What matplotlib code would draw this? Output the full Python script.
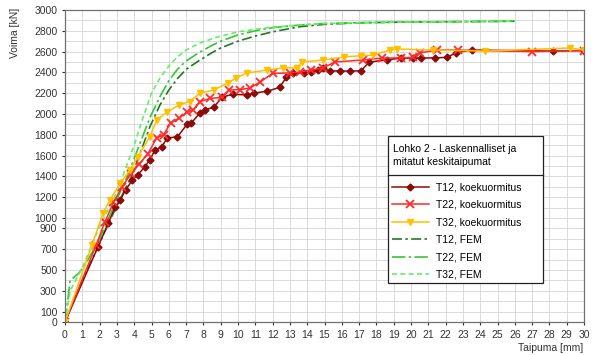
import matplotlib
matplotlib.use("Agg")
import matplotlib.pyplot as plt
from matplotlib.patches import Rectangle
from matplotlib.lines import Line2D
import numpy as np

plt.rcParams['font.family'] = ['Liberation Sans', 'DejaVu Sans']

# ---- data ----
t12_x = [0, 1.9, 2.5, 2.9, 3.2, 3.5, 3.9, 4.2, 4.6, 4.9, 5.2, 5.6, 5.9, 6.5, 7.05, 7.3, 7.8, 8.1, 8.6, 9.1,
         9.7, 10.5, 10.9, 11.7, 12.4, 12.8, 13.2, 13.8, 14.2, 14.6, 14.9, 15.3, 15.9, 16.5, 17.1, 17.6,
         18.6, 19.4, 20.1, 20.6, 21.4, 22.1, 22.6, 23.5, 28.2, 30.0]
t12_y = [0, 720, 950, 1106, 1173, 1270, 1365, 1413, 1490, 1558, 1654, 1683, 1770, 1780, 1900, 1913, 2010, 2038, 2067, 2163,
         2190, 2183, 2200, 2220, 2255, 2355, 2394, 2394, 2404, 2423, 2440, 2415, 2413, 2413, 2415, 2500,
         2519, 2538, 2538, 2538, 2540, 2545, 2590, 2615, 2605, 2610]

t22_x = [0, 1.8, 2.3, 2.8, 3.3, 3.8, 4.3, 4.8, 5.3, 5.7, 6.1, 6.6, 7.05, 7.4, 7.8, 8.4, 9.1, 9.5, 10.1,
         10.7, 11.3, 12.0, 13.0, 13.6, 14.2, 14.9, 15.6, 17.2, 18.3, 19.4, 20.1, 20.5, 21.5, 22.7, 27.0, 30.0]
t22_y = [0, 740, 960, 1150, 1300, 1420, 1520, 1620, 1770, 1800, 1913, 1960, 2019, 2038, 2120, 2150, 2160, 2230, 2235,
         2250, 2310, 2390, 2395, 2405, 2423, 2442, 2500, 2519, 2538, 2540, 2545, 2587, 2615, 2615, 2600, 2610]

t32_x = [0, 1.56, 2.2, 2.6, 3.2, 3.75, 4.2, 4.9, 5.3, 5.9, 6.6, 7.2, 7.8, 8.6, 9.4, 9.9, 10.5, 11.7, 12.6,
         13.4, 13.7, 14.9, 16.1, 17.1, 17.8, 18.8, 19.2, 21.3, 24.3, 29.2, 30.0]
t32_y = [0, 740, 1048, 1173, 1336, 1461, 1587, 1780, 1942, 2019, 2087, 2120, 2200, 2230, 2298, 2346, 2394, 2423, 2442,
         2445, 2500, 2519, 2548, 2560, 2567, 2615, 2625, 2615, 2605, 2635, 2615]

fem12_x = [0, 0.3, 1, 2, 3, 3.85, 4.9, 5.5, 6, 6.5, 7, 7.8, 8.5, 9, 10, 11, 12, 13.6, 15, 17, 20, 23, 26]
fem12_y = [0, 120, 400, 760, 1120, 1400, 1875, 2090, 2230, 2340, 2430, 2519, 2590, 2635, 2700, 2750, 2790, 2840, 2862, 2877, 2885, 2888, 2892]

fem22_x = [0, 0.3, 0.8, 1.2, 2, 3, 3.6, 4.9, 5.5, 6, 6.5, 7, 7.8, 8.5, 9, 10, 11, 12, 13.6, 15, 17, 20, 23, 26]
fem22_y = [0, 400, 470, 560, 800, 1180, 1400, 1962, 2170, 2320, 2430, 2510, 2596, 2660, 2700, 2760, 2800, 2830, 2856, 2870, 2878, 2885, 2888, 2892]

fem32_x = [0, 0.3, 1, 1.6, 2, 3, 4, 4.5, 5, 5.5, 6, 6.5, 7, 7.8, 8.8, 10, 11, 12, 13.6, 15, 17, 20, 23, 26]
fem32_y = [0, 300, 520, 760, 920, 1250, 1700, 1960, 2200, 2350, 2460, 2550, 2615, 2683, 2740, 2790, 2815, 2835, 2856, 2870, 2878, 2885, 2888, 2893]

yticks = [0, 100, 300, 500, 700, 900, 1000, 1200, 1400, 1600, 1800, 2000, 2200, 2400, 2600, 2800, 3000]
xticks = list(range(0, 31))

labels = ["T12, koekuormitus", "T22, koekuormitus", "T32, koekuormitus",
          "T12, FEM", "T22, FEM", "T32, FEM"]
legend_title = "Lohko 2 - Laskennalliset ja\nmitatut keskitaipumat"

# ---- figure ----
fig = plt.figure(figsize=(6.02, 3.55), dpi=100)
L, R, T, B = 65, 584, 10, 322
ax = fig.add_axes([L / 602, 1 - B / 355, (R - L) / 602, (B - T) / 355])

ax.set_xlim(0, 30)
ax.set_ylim(0, 3000)
ax.set_xticks(xticks)
ax.set_yticks(yticks)
ax.set_yticks(np.arange(0, 3001, 100), minor=True)
ax.grid(True, which='both', color='#d4d4d4', lw=0.6)
ax.set_axisbelow(True)
ax.tick_params(labelsize=7.5, length=2, colors='#333333')
ax.tick_params(which='minor', length=0)
for s in ax.spines.values():
    s.set_color('#707070')
    s.set_linewidth(0.9)

c12, c22, c32 = '#8b0a0a', '#ff2a2a', '#ffc000'
g12, g22, g32 = '#1f7a1f', '#33c733', '#66ee66'

h3, = ax.plot(fem12_x, fem12_y, color=g12, lw=1.2, dashes=[6, 2, 1.5, 2], label=labels[3])
h4, = ax.plot(fem22_x, fem22_y, color=g22, lw=1.2, dashes=[8, 2, 1.5, 2], label=labels[4])
h5, = ax.plot(fem32_x, fem32_y, color=g32, lw=1.2, dashes=[3, 2], label=labels[5])
h0, = ax.plot(t12_x, t12_y, color=c12, lw=1.1, marker='D', ms=3.5, label=labels[0])
h1, = ax.plot(t22_x, t22_y, color=c22, lw=1.1, marker='x', ms=6, mew=1.3, label=labels[1])
h2, = ax.plot(t32_x, t32_y, color=c32, lw=1.1, marker='v', ms=5, label=labels[2])

# legend box
bx0 = (388 - L) / (R - L)
bx1 = (543 - L) / (R - L)
by_top = (B - 136) / (B - T)
by_sep = (B - 175) / (B - T)
by_bot = (B - 283) / (B - T)
ax.add_patch(Rectangle((bx0, by_bot), bx1 - bx0, by_top - by_bot, transform=ax.transAxes,
                       facecolor='white', edgecolor='#222222', lw=0.9, zorder=10))
ax.add_line(Line2D([bx0, bx1], [by_sep, by_sep], transform=ax.transAxes, color='#222222', lw=0.9, zorder=11))
ax.text(bx0 + 0.01, (by_top + by_sep) / 2, legend_title, transform=ax.transAxes, fontsize=7.5,
        va='center', ha='left', zorder=12, linespacing=1.3)
leg = ax.legend(handles=[h0, h1, h2, h3, h4, h5], loc='upper left',
                bbox_to_anchor=(bx0 - 0.005, by_sep - 0.004), frameon=False, fontsize=7.5,
                handlelength=3.6, labelspacing=0.72, handletextpad=0.7, borderaxespad=0.2)
leg.set_zorder(13)

fig.text(10 / 602, 1 - 8 / 355, "Voima [kN]", rotation=90, ha='left', va='top', fontsize=7.5, color='#333333')
fig.text(583 / 602, 1 - 348 / 355, "Taipuma [mm]", ha='right', va='center', fontsize=7.5, color='#333333')

fig.savefig("out.png", dpi=100)
